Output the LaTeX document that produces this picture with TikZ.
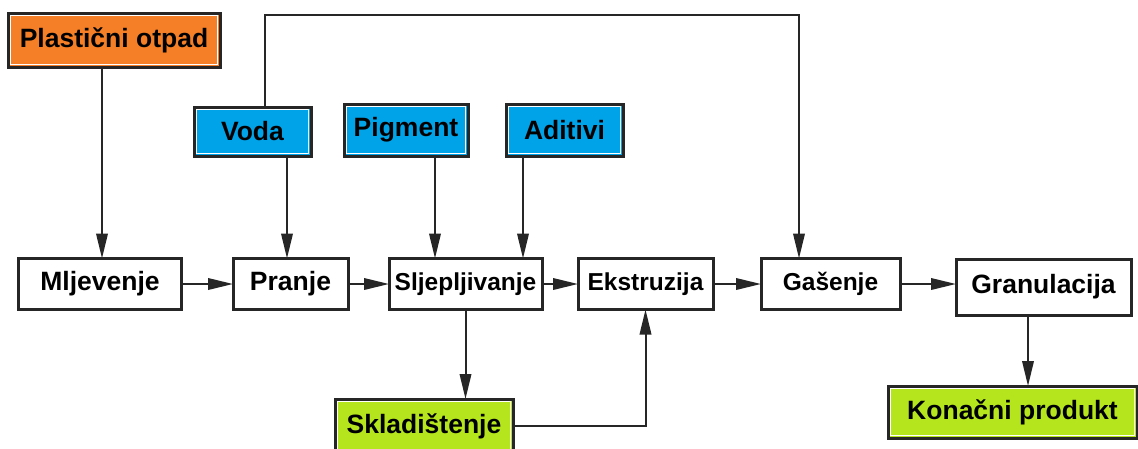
\documentclass[tikz,border=0pt]{standalone}
\usepackage{fontspec}
\setmainfont{Liberation Sans}
\usetikzlibrary{arrows.meta}
\definecolor{otpadorange}{HTML}{F57F27}
\definecolor{ulazplava}{HTML}{00A2E8}
\definecolor{izlazzelena}{HTML}{B5E61D}
\begin{document}
\begin{tikzpicture}[x=1pt, y=-1pt, font=\fontsize{26.5pt}{30pt}\selectfont\bfseries,
    box/.style={draw=black!85, line width=3pt, fill=white, inner sep=0pt, outer sep=0pt, minimum height=51pt},
    unutra/.style={path picture={\draw[white, line width=1.2pt] ([shift={(2.6pt,2.6pt)}]path picture bounding box.south west) rectangle ([shift={(-2.6pt,-2.6pt)}]path picture bounding box.north east);}},
    ulaz/.style={box, fill=#1, unutra},
    manje/.style={font=\fontsize{24.5pt}{28pt}\selectfont\bfseries},
    arr/.style={draw=black!85, line width=2pt, -{Triangle[length=25pt,width=11.5pt]}}]
    \useasboundingbox (0,0) rectangle (1138,448);

    % ulazi
    \node[ulaz=otpadorange, minimum width=212pt, minimum height=54pt] (otpad) at (114,40) {Plastični otpad};
    \node[ulaz=ulazplava, minimum width=117pt, minimum height=49pt] (voda) at (252.5,131.5) {Voda};
    \node[ulaz=ulazplava, minimum width=124pt, minimum height=52pt] (pigment) at (406,130) {Pigment};
    \node[ulaz=ulazplava, minimum width=117pt, minimum height=52pt] (aditivi) at (564.5,130) {Aditivi};

    % postupak
    \node[box, minimum width=163pt] (mljevenje) at (100,284) {Mljevenje};
    \node[box, minimum width=115pt] (pranje) at (290.5,284) {Pranje};
    \node[box, manje, minimum width=153pt] (sljepljivanje) at (465.5,284) {Sljepljivanje};
    \node[box, manje, minimum width=135pt] (ekstruzija) at (645.5,284) {Ekstruzija};
    \node[box, manje, minimum width=139pt] (gasenje) at (830.5,284) {Gašenje};
    \node[box, minimum width=175pt, minimum height=56pt] (granulacija) at (1043.5,287) {Granulacija};

    % izlazi
    \node[ulaz=izlazzelena, minimum width=178pt, minimum height=54pt] (skladistenje) at (424,426) {Skladištenje};
    \node[ulaz=izlazzelena, minimum width=249pt, minimum height=52pt] (konacni) at (1012.5,412) {Konačni produkt};

    \coordinate (vodagore) at ([xshift=12.5pt]voda.north);
    \coordinate (gasenjeulaz) at ([xshift=-31.5pt]gasenje.north);
    \coordinate (pranjeulaz) at ([xshift=-3.5pt]pranje.north);
    \coordinate (pigmentulaz) at ([xshift=-30.5pt]sljepljivanje.north);
    \coordinate (aditiviulaz) at ([xshift=57.5pt]sljepljivanje.north);
    \coordinate (granizlaz) at ([xshift=-15.5pt]granulacija.south);

    \draw[arr] ([xshift=-12pt]otpad.south) -- ([xshift=2pt]mljevenje.north);
    \draw[arr] (vodagore) -- (vodagore |- 0,15) -| (gasenjeulaz);
    \draw[arr] (pranjeulaz |- voda.south) -- (pranjeulaz);
    \draw[arr] (pigmentulaz |- pigment.south) -- (pigmentulaz);
    \draw[arr] (aditiviulaz |- aditivi.south) -- (aditiviulaz);

    \foreach \a/\b in {mljevenje/pranje, pranje/sljepljivanje, sljepljivanje/ekstruzija, ekstruzija/gasenje, gasenje/granulacija}
        \draw[arr] (\a.east) -- (\b.west |- \a.east);

    \draw[arr] (sljepljivanje.south) -- (sljepljivanje.south |- skladistenje.north);
    \draw[arr] (skladistenje.east) -| (ekstruzija.south);
    \draw[arr] (granizlaz) -- (granizlaz |- konacni.north);
\end{tikzpicture}
\end{document}
